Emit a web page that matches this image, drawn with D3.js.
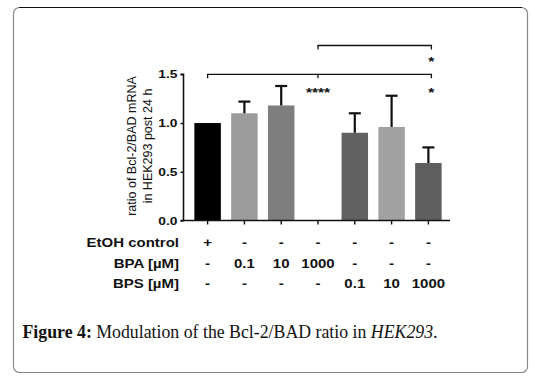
<!DOCTYPE html>
<html><head><meta charset="utf-8">
<script src="https://cdn.jsdelivr.net/npm/d3@7"></script>
<style>body{margin:0;background:#fff}svg{display:block}</style>
</head><body><div id="c"></div>
<script>
const groups = ["EtOH","BPA 0.1","BPA 10","BPA 1000","BPS 0.1","BPS 10","BPS 1000"];
const means = [1.0, 1.10, 1.18, 0, 0.90, 0.96, 0.59];
const errTops = [1.0, 1.22, 1.38, 0, 1.10, 1.28, 0.75];
const barColors = ["#000000","#9c9c9c","#7e7e7e","#ffffff","#616161","#a2a2a2","#5f5f5f"];
const yTicks = [0.0, 0.5, 1.0, 1.5];
const rowLabels = ["EtOH control","BPA [µM]","BPS [µM]"];
const rowEtOH = ["+","-","-","-","-","-","-"];
const rowBPA = ["-","0.1","10","1000","-","-","-"];
const rowBPS = ["-","-","-","-","0.1","10","1000"];

const W = 535, H = 381;
const svg = d3.select("#c").append("svg").attr("width", W).attr("height", H);

// frame
svg.append("rect").attr("x",13.5).attr("y",7.5).attr("width",514).attr("height",365)
  .attr("rx",6).attr("fill","none").attr("stroke","#8a8a8a").attr("stroke-width",1.2);
svg.append("line").attr("x1",19).attr("x2",522).attr("y1",7.5).attr("y2",7.5)
  .attr("stroke","#111").attr("stroke-width",1.2);

const x = d3.scaleBand().domain(groups).range([187, 449]).paddingInner(0.28).paddingOuter(0.2);
const y = d3.scaleLinear().domain([0, 1.5]).range([220.5, 74.3]);
const axX = 183.5;
const font = "Liberation Sans, Arial, sans-serif";
const SX = 1.2; // horizontal stretch of the reference's lettering

const g = svg.append("g");
g.selectAll("rect.bar").data(groups).join("rect")
  .attr("x", d => x(d)).attr("width", x.bandwidth())
  .attr("y", (d,i) => y(means[i])).attr("height", (d,i) => y(0) - y(means[i]))
  .attr("fill", (d,i) => barColors[i]);

groups.forEach((d,i) => {
  if (errTops[i] <= means[i]) return;
  const cx = x(d) + x.bandwidth()/2;
  g.append("line").attr("x1",cx).attr("x2",cx).attr("y1",y(means[i])).attr("y2",y(errTops[i]))
    .attr("stroke","#111").attr("stroke-width",2.2);
  g.append("line").attr("x1",cx-6).attr("x2",cx+6).attr("y1",y(errTops[i])).attr("y2",y(errTops[i]))
    .attr("stroke","#111").attr("stroke-width",2.2);
});

// y axis
const yAxis = d3.axisLeft(y).tickValues(yTicks).tickFormat(d3.format(".1f")).tickSize(3).tickPadding(3);
const ya = svg.append("g").attr("transform",`translate(${axX},0)`).call(yAxis);
ya.select(".domain").attr("stroke","#111").attr("stroke-width",1.6).attr("d",`M-3,${y(1.5)}H0V${y(0)}H-3`);
ya.selectAll(".tick line").attr("stroke","#111").attr("stroke-width",1.4);
ya.selectAll(".tick text").attr("font-family",font)
  .attr("font-weight","bold").attr("font-size",11.5).attr("fill","#111")
  .attr("transform",`translate(-6,0) scale(${SX},1)`).attr("x",0);

// x axis
const xAxis = d3.axisBottom(x).tickSize(4).tickFormat("");
const xa = svg.append("g").attr("transform",`translate(0,${y(0)})`).call(xAxis);
xa.select(".domain").attr("stroke","#111").attr("stroke-width",1.6).attr("d",`M${axX},0H450`);
xa.selectAll(".tick line").attr("stroke","#111").attr("stroke-width",1.4);

// y title
const yt = svg.append("text").attr("transform",`translate(141.6,146) rotate(-90)`)
  .attr("text-anchor","middle").attr("font-family",font)
  .attr("font-size",12.5).attr("fill","#111");
yt.append("tspan").attr("x",0).attr("dy","-0.45em").text("ratio of Bcl-2/BAD mRNA");
yt.append("tspan").attr("x",0).attr("dy","1.25em").text("in HEK293 post 24 h");

// significance brackets
const cxOf = i => x(groups[i]) + x.bandwidth()/2;
const bY1 = 74.3;
const br = svg.append("g").attr("stroke","#111").attr("stroke-width",1.3).attr("fill","none");
br.append("path").attr("d",`M${cxOf(0)},${bY1+4}V${bY1}H${cxOf(6)+3}V${bY1+4}M${cxOf(3)},${bY1}V${bY1+4}`);
const bY2 = 45.5;
br.append("path").attr("d",`M${cxOf(3)},${bY2+4}V${bY2}H${cxOf(6)+3}V${bY2+4}`);
const st = svg.append("g").attr("font-family",font)
  .attr("font-weight","bold").attr("font-size",13).attr("fill","#111").attr("text-anchor","middle");
const stars = [[cxOf(6)+3, 66, "*"], [cxOf(6)+3, 97, "*"], [cxOf(3), 97, "****"]];
st.selectAll("text").data(stars).join("text")
  .attr("transform", d => `translate(${d[0]},${d[1]}) scale(${SX},1)`).text(d => d[2]);

// treatment rows
const rows = [rowEtOH, rowBPA, rowBPS];
const rowY = [247, 267.5, 288];
const rg = svg.append("g").attr("font-family",font)
  .attr("font-weight","bold").attr("font-size",12.5).attr("fill","#111");
rowLabels.forEach((lab, r) => {
  rg.append("text").attr("transform",`translate(179,${rowY[r]}) scale(${SX},1)`)
    .attr("text-anchor","end").text(lab);
  rg.selectAll(null).data(rows[r]).join("text")
    .attr("transform",(d,i) => `translate(${cxOf(i)},${rowY[r]}) scale(${SX},1)`)
    .attr("text-anchor","middle").text(d => d);
});

// caption
const cap = svg.append("text").attr("x",22.5).attr("y",338)
  .attr("font-family","Liberation Serif, Times New Roman, serif").attr("font-size",17.8).attr("fill","#111");
cap.append("tspan").attr("font-weight","bold").text("Figure 4:");
cap.append("tspan").text(" Modulation of the Bcl-2/BAD ratio in ");
cap.append("tspan").attr("font-style","italic").text("HEK293");
cap.append("tspan").text(".");
</script></body></html>
